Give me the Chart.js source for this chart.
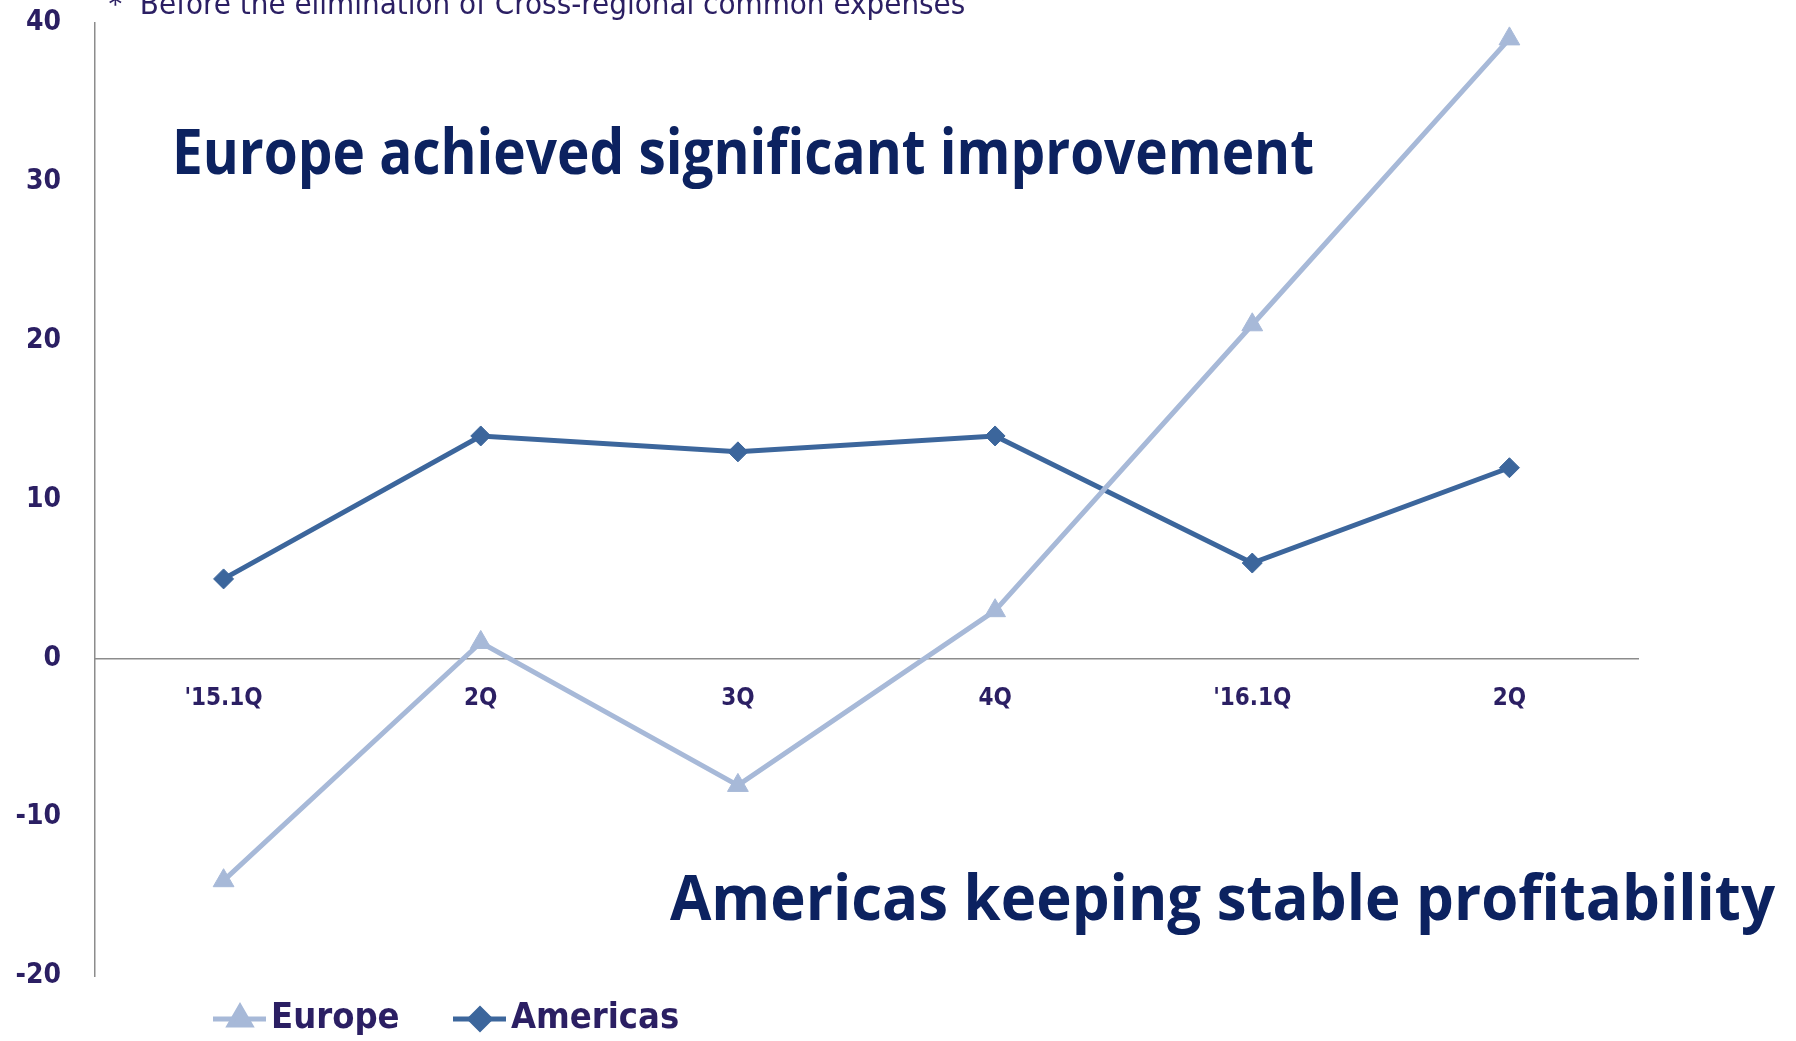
<!DOCTYPE html>
<html>
<head>
<meta charset="utf-8">
<script src="https://cdn.jsdelivr.net/npm/chart.js@4/dist/chart.umd.min.js"></script>
<style>
  html, body { margin: 0; padding: 0; background: #fff; }
  #wrap { width: 1796px; height: 1041px; }
</style>
</head>
<body>
<div id="wrap"><canvas id="chart"></canvas></div>
<script>
var quarters = ["'15.1Q", "2Q", "3Q", "4Q", "'16.1Q", "2Q"];
var europe = [-14, 1, -8, 3, 21, 39];
var americas = [5, 14, 13, 14, 6, 12];
var yTicks = [-20, -10, 0, 10, 20, 30, 40];

var note = "＊ Before the elimination of Cross-regional common expenses";
var headlineEurope = "Europe achieved significant improvement";
var headlineAmericas = "Americas keeping stable profitability";

var labelColor = "#2b1f63";
var headColor = "#0c2260";
var axisColor = "#8c8c8c";
var condensed = "'DejaVu Sans Condensed', 'DejaVu Sans', sans-serif";
var headFont = "'Open Sans', 'Noto Sans', sans-serif";

// headline texts and footnote on top of the plot
var textPlugin = {
  id: "notes",
  afterDraw: function (chart) {
    var ctx = chart.ctx;
    ctx.save();
    ctx.textAlign = "left";

    ctx.fillStyle = labelColor;
    ctx.font = "31px " + condensed;
    ctx.textBaseline = "middle";
    ctx.fillText(note, 100, 6, 876);

    ctx.fillStyle = headColor;
    ctx.font = "bold 62px " + headFont;
    ctx.textBaseline = "alphabetic";
    ctx.fillText(headlineEurope, 172, 174, 1142);
    ctx.fillText(headlineAmericas, 670, 920, 1105);
    ctx.restore();
  }
};

// line + marker legend under the plot
var legendPlugin = {
  id: "lineLegend",
  afterDraw: function (chart) {
    var ctx = chart.ctx;
    var starts = [213, 453];
    var y = 1019;
    chart.data.datasets.forEach(function (ds, i) {
      var x0 = starts[i];
      ctx.save();
      ctx.strokeStyle = ds.borderColor;
      ctx.lineWidth = 5;
      ctx.beginPath();
      ctx.moveTo(x0, y);
      ctx.lineTo(x0 + 53, y);
      ctx.stroke();
      ctx.fillStyle = ds.borderColor;
      ctx.strokeStyle = ds.borderColor;
      Chart.helpers.drawPoint(ctx, {
        pointStyle: ds.pointStyle,
        radius: ds.pointRadius,
        rotation: 0,
        borderWidth: 1
      }, x0 + 27, y);
      ctx.fillStyle = labelColor;
      ctx.font = "bold 36px " + condensed;
      ctx.textBaseline = "middle";
      ctx.textAlign = "left";
      ctx.fillText(ds.label, x0 + 58, y);
      ctx.restore();
    });
  }
};

new Chart(document.getElementById("chart"), {
  type: "line",
  data: {
    labels: quarters,
    datasets: [
      {
        label: "Europe",
        data: europe,
        borderColor: "#a7b9d8",
        backgroundColor: "#a7b9d8",
        borderWidth: 5,
        pointStyle: "triangle",
        pointRadius: 12,
        pointBorderWidth: 1,
        tension: 0
      },
      {
        label: "Americas",
        data: americas,
        borderColor: "#3c669c",
        backgroundColor: "#3c669c",
        borderWidth: 5,
        pointStyle: "rectRot",
        pointRadius: 10,
        pointBorderWidth: 1,
        tension: 0
      }
    ]
  },
  options: {
    responsive: true,
    maintainAspectRatio: false,
    animation: false,
    layout: { padding: { top: 23, right: 158, bottom: 65, left: 0 } },
    plugins: {
      legend: { display: false },
      tooltip: { enabled: false }
    },
    scales: {
      x: {
        type: "category",
        offset: true,
        position: { y: 0 },
        grid: { display: false, drawTicks: false },
        border: { display: true, color: axisColor, width: 1.5 },
        afterFit: function (scale) {
          scale.height = 0;
        },
        ticks: {
          color: labelColor,
          padding: 26,
          maxRotation: 0,
          font: { family: condensed, size: 24, weight: "bold" }
        }
      },
      y: {
        min: -20,
        max: 40,
        grid: { display: false, drawTicks: false },
        border: { display: true, color: axisColor, width: 1.5 },
        afterBuildTicks: function (scale) {
          scale.ticks = yTicks.map(function (v) { return { value: v }; });
        },
        afterFit: function (scale) {
          // fixed axis width; the tick padding should not push the plot down
          scale.width = 95;
          scale.paddingTop = 0;
          scale.paddingBottom = 0;
        },
        ticks: {
          color: labelColor,
          padding: 34,
          font: { family: condensed, size: 28, weight: "bold" }
        }
      }
    }
  },
  plugins: [textPlugin, legendPlugin]
});
</script>
</body>
</html>
